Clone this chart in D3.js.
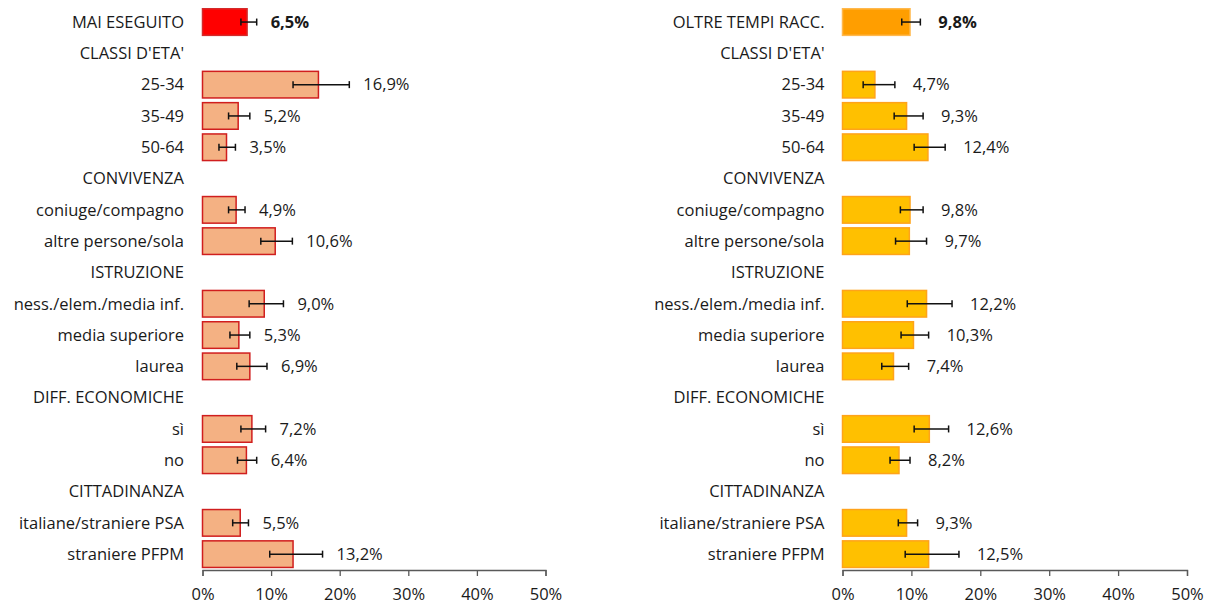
<!DOCTYPE html>
<html>
<head>
<meta charset="utf-8">
<script src="https://cdn.jsdelivr.net/npm/d3@7"></script>
<style>
  body { margin: 0; background: #fff; }
  svg text { font-family: "Open Sans", sans-serif; fill: #1a1a1a; }
</style>
</head>
<body>
<div id="chart"></div>
<script>
// rows below the total bar (group headers have no value)
var rowLabels = ["CLASSI D'ETA'", "25-34", "35-49", "50-64",
  "CONVIVENZA", "coniuge/compagno", "altre persone/sola",
  "ISTRUZIONE", "ness./elem./media inf.", "media superiore", "laurea",
  "DIFF. ECONOMICHE", "sì", "no",
  "CITTADINANZA", "italiane/straniere PSA", "straniere PFPM"];

var totalLabels = ["MAI ESEGUITO", "OLTRE TEMPI RACC."];
var totalValues = [6.5, 9.8];
var totalLow = [5.6, 8.6];
var totalHigh = [7.9, 11.3];

var maiValues = [null, 16.9, 5.2, 3.5, null, 4.9, 10.6, null, 9.0, 5.3, 6.9, null, 7.2, 6.4, null, 5.5, 13.2];
var maiLow    = [null, 13.2, 3.8, 2.4, null, 3.8, 8.5, null, 6.8, 4.0, 5.0, null, 5.6, 5.1, null, 4.4, 9.8];
var maiHigh   = [null, 21.4, 6.9, 4.8, null, 6.2, 13.1, null, 11.8, 6.9, 9.4, null, 9.2, 7.9, null, 6.7, 17.5];

var oltreValues = [null, 4.7, 9.3, 12.4, null, 9.8, 9.7, null, 12.2, 10.3, 7.4, null, 12.6, 8.2, null, 9.3, 12.5];
var oltreLow    = [null, 3.0, 7.5, 10.4, null, 8.4, 7.7, null, 9.4, 8.5, 5.7, null, 10.4, 6.9, null, 8.1, 9.1];
var oltreHigh   = [null, 7.6, 11.7, 14.9, null, 11.7, 12.2, null, 15.9, 12.5, 9.6, null, 15.4, 9.8, null, 10.9, 16.9];

var ticks = [0, 10, 20, 30, 40, 50];

var width = 1212, height = 605;
var fontSize = "16.5px";
var svg = d3.select("#chart").append("svg")
  .attr("width", width)
  .attr("height", height);

var itFormat = d3.formatLocale({decimal: ",", thousands: ".", grouping: [3], currency: ["", "€"]});
var fmt = itFormat.format(".1f");

var rows = d3.range(rowLabels.length + 1);
var y = d3.scaleBand()
  .domain(rows)
  .range([6.4, 569.8])
  .paddingInner(0.15)
  .paddingOuter(0.075);

var panels = [
  {labelX: 184, x0: 202.5, x1: 545.5, values: maiValues, low: maiLow, high: maiHigh,
   totalFill: "#ff0000", totalStroke: "#d42a2a", fill: "#f4b183", stroke: "#d01e1e", gap: 14},
  {labelX: 824.5, x0: 842.5, x1: 1187, values: oltreValues, low: oltreLow, high: oltreHigh,
   totalFill: "#ff9e00", totalStroke: "#ffb84d", fill: "#ffc000", stroke: "#ffa31a", gap: 18}
];

panels.forEach(function(p, pi) {
  var x = d3.scaleLinear().domain([0, 50]).range([p.x0, p.x1]);

  var data = [{label: totalLabels[pi], value: totalValues[pi], lo: totalLow[pi], hi: totalHigh[pi], total: true, row: 0}]
    .concat(rowLabels.map(function(l, i) {
      return {label: l, value: p.values[i], lo: p.low[i], hi: p.high[i], total: false, row: i + 1};
    }));

  var g = svg.append("g");

  // category labels
  g.selectAll(".lab")
    .data(data)
    .enter().append("text")
    .attr("class", "lab")
    .attr("x", p.labelX)
    .attr("y", function(d) { return y(d.row) + y.bandwidth() / 2; })
    .attr("dy", "0.35em")
    .attr("text-anchor", "end")
    .style("font-size", fontSize)
    .text(function(d) { return d.label; });

  var withVal = data.filter(function(d) { return d.value != null; });

  g.selectAll(".bar")
    .data(withVal)
    .enter().append("rect")
    .attr("class", "bar")
    .attr("x", x(0))
    .attr("y", function(d) { return y(d.row); })
    .attr("width", function(d) { return x(d.value) - x(0); })
    .attr("height", y.bandwidth())
    .attr("fill", function(d) { return d.total ? p.totalFill : p.fill; })
    .attr("stroke", function(d) { return d.total ? p.totalStroke : p.stroke; })
    .attr("stroke-width", 1.5);

  // error bars
  var err = g.selectAll(".err")
    .data(withVal)
    .enter().append("g")
    .attr("class", "err")
    .attr("transform", function(d) { return "translate(0," + (y(d.row) + y.bandwidth() / 2) + ")"; });
  err.append("line")
    .attr("x1", function(d) { return x(d.lo); })
    .attr("x2", function(d) { return x(d.hi); })
    .attr("stroke", "#111").attr("stroke-width", 1.5);
  err.append("line")
    .attr("x1", function(d) { return x(d.lo); })
    .attr("x2", function(d) { return x(d.lo); })
    .attr("y1", -3.5).attr("y2", 3.5)
    .attr("stroke", "#111").attr("stroke-width", 1.5);
  err.append("line")
    .attr("x1", function(d) { return x(d.hi); })
    .attr("x2", function(d) { return x(d.hi); })
    .attr("y1", -3.5).attr("y2", 3.5)
    .attr("stroke", "#111").attr("stroke-width", 1.5);

  // value labels
  g.selectAll(".val")
    .data(withVal)
    .enter().append("text")
    .attr("class", "val")
    .attr("x", function(d) { return x(d.hi) + p.gap; })
    .attr("y", function(d) { return y(d.row) + y.bandwidth() / 2; })
    .attr("dy", "0.35em")
    .style("font-size", fontSize)
    .style("font-weight", function(d) { return d.total ? "bold" : "normal"; })
    .text(function(d) { return fmt(d.value) + "%"; });

  // x axis
  var ax = g.append("g")
    .attr("transform", "translate(0,570)")
    .call(d3.axisBottom(x).tickValues(ticks).tickSize(6).tickPadding(12)
      .tickFormat(function(d) { return d + "%"; }));
  ax.select(".domain").attr("stroke", "#595959").attr("stroke-width", 1.3);
  ax.selectAll(".tick line").attr("stroke", "#595959").attr("stroke-width", 1.3);
  ax.selectAll(".tick text").style("font-size", fontSize).attr("fill", "#1a1a1a")
    .style("font-family", "'Open Sans', sans-serif");
});
</script>
</body>
</html>
